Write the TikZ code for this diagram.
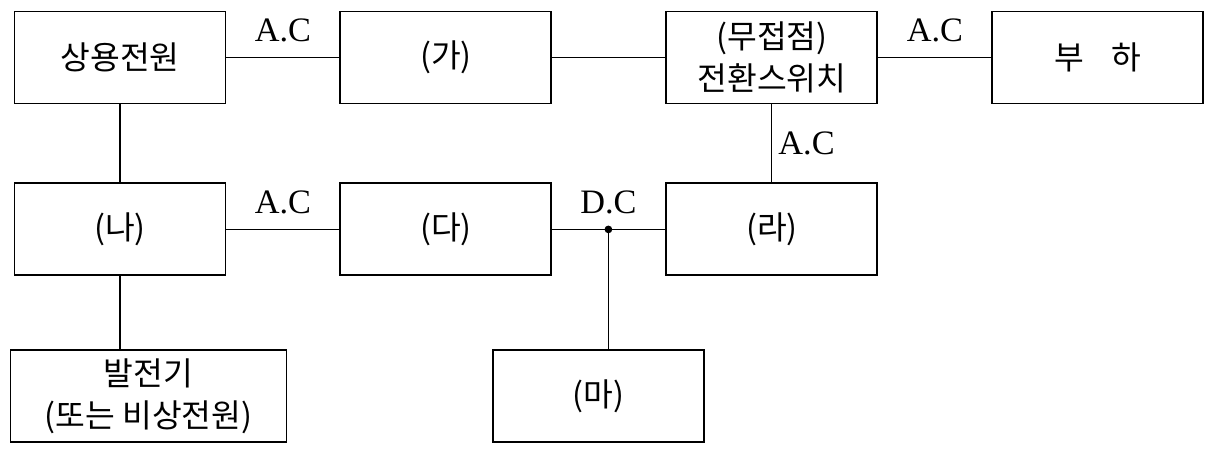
\documentclass[tikz,border=0pt]{standalone}
\usepackage{fontspec}
\setmainfont{Liberation Serif}
\newfontfamily\kor{Noto Sans CJK KR}
\usetikzlibrary{positioning}

\begin{document}
\begin{tikzpicture}[node distance=2.26cm,
    blk/.style={rectangle, draw, line width=1.1pt, minimum width=4.22cm, minimum height=1.84cm, inner sep=0pt, align=center, font={\kor\fontsize{18.4}{23.5}\selectfont}},
    wire/.style={line width=0.7pt},
    lbl/.style={inner sep=0pt, font={\fontsize{19.5}{21}\selectfont}}]
    \useasboundingbox (0,0) rectangle (24.26,9.28);
    % Nodes
    \node [blk] (src) at (2.4,8.13) {상용전원};
    \node [blk, right=of src] (ga) {(가)};
    \node [blk, right=of ga] (sw) {(무접점)\\전환스위치};
    \node [blk, right=of sw] (load) {부\hspace{0.85em}하};
    \node [blk, below=1.56cm of src] (na) {(나)};
    \node [blk, right=of na] (da) {(다)};
    \node [blk, right=of da] (ra) {(라)};
    \node [blk, minimum width=5.52cm, below=1.46cm of na, xshift=0.57cm] (gen) {발전기\\(또는 비상전원)};
    \node [blk, below=1.46cm of da, xshift=3.05cm] (ma) {(마)};
    \coordinate [right=1.12cm of da.east] (dc);

    % Edges
    \draw [wire] (src) -- node [lbl, above=0.3cm] {A.C} (ga);
    \draw [wire] (ga) -- (sw);
    \draw [wire] (sw) -- node [lbl, above=0.3cm] {A.C} (load);
    \draw [wire] (src) -- (na);
    \draw [wire] (sw) -- node [lbl, right=0.12cm] {A.C} (ra);
    \draw [wire] (na) -- node [lbl, above=0.3cm] {A.C} (da);
    \draw [wire] (da) -- (ra);
    \fill (dc) circle (2.2pt);
    \node [lbl, above=0.3cm of dc, anchor=south] (dclbl) {D.C};
    \draw [wire] (dc) -- (dc |- ma.north);
    \draw [wire] (na.south) -- (na.south |- gen.north);
\end{tikzpicture}
\end{document}
